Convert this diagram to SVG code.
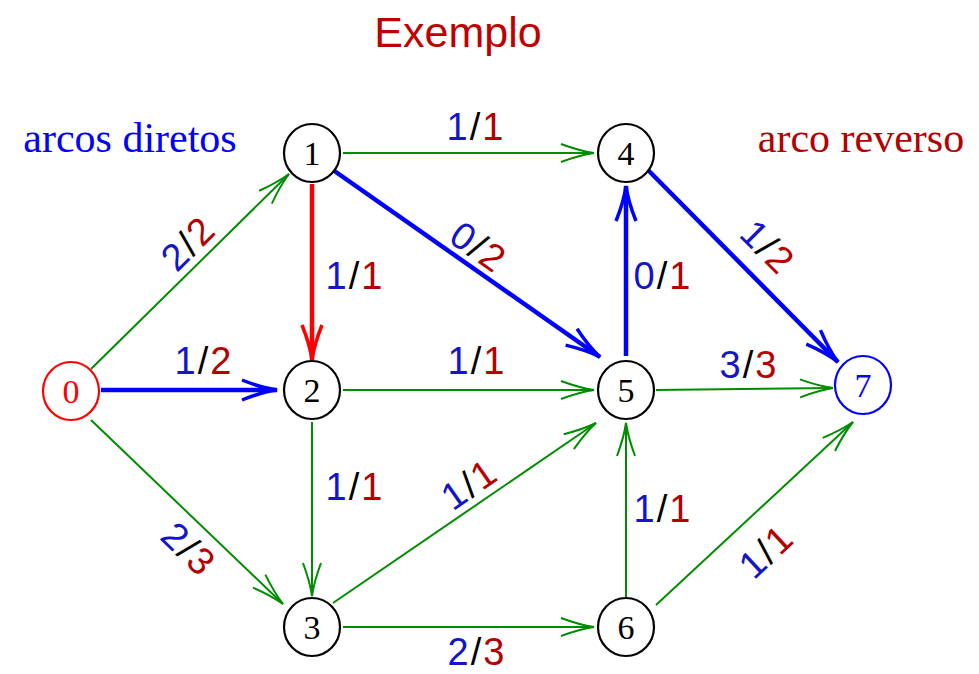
<svg xmlns="http://www.w3.org/2000/svg" width="979" height="674" viewBox="0 0 979 674">
<style>
.node{fill:#fff;stroke:#000;stroke-width:2.2}
.nt{font-family:"Liberation Serif",serif;font-size:34px;text-anchor:middle;fill:#000}
.g{stroke:#008c00;stroke-width:2;fill:none}
.b{stroke:#0000ff;stroke-width:4.5;fill:none}
.r{stroke:#ff0000;stroke-width:4.5;fill:none}
.lab{font-family:"Liberation Sans",sans-serif;font-size:38px;letter-spacing:2px;text-anchor:middle;fill:#000}
.n{fill:#1414c8}
.d{fill:#b40000}
</style>
<defs>
<marker id="ag" markerUnits="userSpaceOnUse" viewBox="-40 -15 45 30" markerWidth="45" markerHeight="30" refX="0" refY="0" orient="auto"><path d="M-33,-9 Q-14,-2 0,0 Q-14,2 -33,9" fill="none" stroke="#008c00" stroke-width="2"/></marker>
<marker id="ab" markerUnits="userSpaceOnUse" viewBox="-40 -15 45 30" markerWidth="45" markerHeight="30" refX="0" refY="0" orient="auto"><path d="M-35,-10 Q-15,-2 0,0 Q-15,2 -35,10" fill="none" stroke="#0000ff" stroke-width="3.5"/></marker>
<marker id="ar" markerUnits="userSpaceOnUse" viewBox="-40 -15 45 30" markerWidth="45" markerHeight="30" refX="0" refY="0" orient="auto"><path d="M-35,-10 Q-15,-2 0,0 Q-15,2 -35,10" fill="none" stroke="#ff0000" stroke-width="3.5"/></marker>
</defs>
<text x="458" y="47" font-family="Liberation Sans,sans-serif" font-size="43" fill="#c00000" text-anchor="middle">Exemplo</text>
<text x="130" y="152" font-family="Liberation Serif,serif" font-size="42" fill="#0000ff" text-anchor="middle">arcos diretos</text>
<text x="861" y="152" font-family="Liberation Serif,serif" font-size="42" fill="#b40000" text-anchor="middle">arco reverso</text>
<g id="connectors">
<line class="g" x1="91" y1="369" x2="289" y2="174" marker-end="url(#ag)"/>
<line class="b" x1="101" y1="390" x2="277" y2="390" marker-end="url(#ab)"/>
<line class="g" x1="91" y1="420" x2="283" y2="604" marker-end="url(#ag)"/>
<line class="g" x1="343" y1="153" x2="594" y2="153" marker-end="url(#ag)"/>
<line class="r" x1="312" y1="184" x2="312" y2="360" marker-end="url(#ar)"/>
<line class="b" x1="333" y1="170" x2="600" y2="357" marker-end="url(#ab)"/>
<line class="g" x1="343" y1="390" x2="594" y2="390" marker-end="url(#ag)"/>
<line class="g" x1="312" y1="422" x2="312" y2="596" marker-end="url(#ag)"/>
<line class="g" x1="333" y1="603" x2="596" y2="423" marker-end="url(#ag)"/>
<line class="g" x1="343" y1="627" x2="594" y2="627" marker-end="url(#ag)"/>
<line class="b" x1="626" y1="356" x2="626" y2="186" marker-end="url(#ab)"/>
<line class="g" x1="626" y1="600" x2="626" y2="423" marker-end="url(#ag)"/>
<line class="b" x1="648" y1="170" x2="838" y2="362" marker-end="url(#ab)"/>
<line class="g" x1="656" y1="390" x2="833" y2="388" marker-end="url(#ag)"/>
<line class="g" x1="656" y1="605" x2="853" y2="422" marker-end="url(#ag)"/>
</g>
<g id="labels">
<text class="lab" x="476" y="140"><tspan class="n">1</tspan>/<tspan class="d">1</tspan></text>
<text class="lab" x="355" y="289"><tspan class="n">1</tspan>/<tspan class="d">1</tspan></text>
<text class="lab" x="204" y="374"><tspan class="n">1</tspan>/<tspan class="d">2</tspan></text>
<text class="lab" x="477" y="374"><tspan class="n">1</tspan>/<tspan class="d">1</tspan></text>
<text class="lab" x="749" y="378"><tspan class="n">3</tspan>/<tspan class="d">3</tspan></text>
<text class="lab" x="663" y="289"><tspan class="n">0</tspan>/<tspan class="d">1</tspan></text>
<text class="lab" x="355" y="500"><tspan class="n">1</tspan>/<tspan class="d">1</tspan></text>
<text class="lab" x="663" y="522"><tspan class="n">1</tspan>/<tspan class="d">1</tspan></text>
<text class="lab" x="477" y="665"><tspan class="n">2</tspan>/<tspan class="d">3</tspan></text>
<text class="lab" transform="translate(189,244) rotate(-45)" y="12"><tspan class="n">2</tspan>/<tspan class="d">2</tspan></text>
<text class="lab" transform="translate(478,248) rotate(35)" y="12"><tspan class="n">0</tspan>/<tspan class="d">2</tspan></text>
<text class="lab" transform="translate(767,248) rotate(45)" y="12"><tspan class="n">1</tspan>/<tspan class="d">2</tspan></text>
<text class="lab" transform="translate(188,550) rotate(44)" y="12"><tspan class="n">2</tspan>/<tspan class="d">3</tspan></text>
<text class="lab" transform="translate(470,485) rotate(-35)" y="12"><tspan class="n">1</tspan>/<tspan class="d">1</tspan></text>
<text class="lab" transform="translate(767,552) rotate(-43)" y="12"><tspan class="n">1</tspan>/<tspan class="d">1</tspan></text>
</g>
<g id="node0"><ellipse class="node" cx="71" cy="391" rx="28" ry="29" style="stroke:#ff0000"/><text class="nt" x="71" y="403" style="fill:#ff0000">0</text></g>
<g id="node1"><ellipse class="node" cx="312" cy="153" rx="28" ry="29"/><text class="nt" x="312" y="165">1</text></g>
<g id="node2"><ellipse class="node" cx="312" cy="390" rx="28" ry="29"/><text class="nt" x="312" y="402">2</text></g>
<g id="node3"><ellipse class="node" cx="312" cy="627" rx="28" ry="29"/><text class="nt" x="312" y="639">3</text></g>
<g id="node4"><ellipse class="node" cx="626" cy="153" rx="28" ry="29"/><text class="nt" x="626" y="165">4</text></g>
<g id="node5"><ellipse class="node" cx="626" cy="390" rx="28" ry="29"/><text class="nt" x="626" y="402">5</text></g>
<g id="node6"><ellipse class="node" cx="626" cy="627" rx="28" ry="29"/><text class="nt" x="626" y="639">6</text></g>
<g id="node7"><ellipse class="node" cx="863" cy="385" rx="28" ry="29" style="stroke:#0000ff"/><text class="nt" x="863" y="397" style="fill:#0000ff">7</text></g>
</svg>
